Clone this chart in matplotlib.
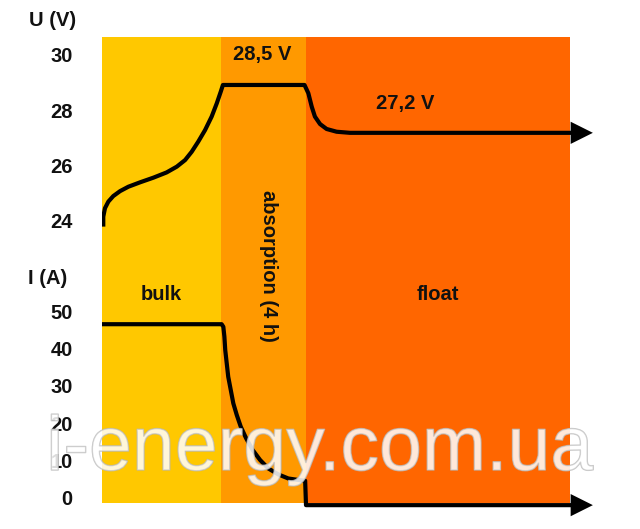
import matplotlib
matplotlib.use("Agg")
import matplotlib.pyplot as plt
import matplotlib.patheffects as pe

plt.rcParams['font.family'] = ['Liberation Sans', 'DejaVu Sans']

# ---- data ----
stages = ["bulk", "absorption (4 h)", "float"]
stage_edges = [0.0, 5.6, 9.6, 22.0]          # hours
stage_colors = ["#FFC800", "#FF9900", "#FF6600"]

volt_t = [0.06, 0.06, 0.14, 0.30, 0.53, 0.85, 1.24, 1.79, 2.42, 3.04, 3.52, 3.91, 4.22, 4.53,
          4.85, 5.16, 5.40, 5.59, 5.69,
          9.53, 9.71, 9.87, 10.02, 10.26, 10.57, 11.04, 11.67, 22.4]
volt_v = [23.76, 24.12, 24.43, 24.67, 24.87, 25.05, 25.21, 25.37, 25.54, 25.73, 25.94, 26.18, 26.48, 26.85,
          27.27, 27.76, 28.24, 28.67, 28.91,
          28.91, 28.61, 28.12, 27.76, 27.49, 27.31, 27.21, 27.17, 27.17]

curr_t = [0.0, 5.63, 5.71, 5.76, 5.80, 5.87, 5.94, 6.06, 6.18, 6.34, 6.53, 6.78, 7.09, 7.44,
          7.83, 8.30, 8.77, 9.25, 9.56, 9.60, 22.4]
curr_i = [46.7, 46.7, 46.0, 43.3, 39.7, 36.1, 32.5, 28.9, 25.3, 22.2, 19.0, 15.9, 12.7, 10.0,
          7.7, 6.1, 5.0, 4.6, 4.4, -2.2, -2.2]

arrow_tip = 23.1
volt_ticks = [24, 26, 28, 30]
curr_ticks = [0, 10, 20, 30, 40, 50]
volt_labels = ["28,5 V", "27,2 V"]

# ---- layout ----
W, H = 640, 529
fig = plt.figure(figsize=(W / 100, H / 100), dpi=100)

def fy(p):
    return 1 - p / H

left, right = 102 / W, 612 / W
ax_u = fig.add_axes([left, fy(265), right - left, fy(37) - fy(265)])
ax_i = fig.add_axes([left, fy(503), right - left, fy(265) - fy(503)])

ax_u.set_ylim(22.364, 30.6545)
ax_i.set_ylim(-1.62, 62.70)
for ax in (ax_u, ax_i):
    ax.set_xlim(0, 24)
    for s in ax.spines.values():
        s.set_visible(False)
    ax.set_xticks([])
    ax.tick_params(axis='y', length=0, pad=21, labelsize=14.5)
    for x0, x1, c in zip(stage_edges[:-1], stage_edges[1:], stage_colors):
        ax.axvspan(x0, x1, color=c, lw=0, zorder=0)

ax_u.set_yticks(volt_ticks)
ax_i.set_yticks(curr_ticks)
for ax in (ax_u, ax_i):
    for lab in ax.get_yticklabels():
        lab.set_fontweight('bold')
        lab.set_color('#111111')

lw = 3.0
ax_u.plot(volt_t, volt_v, color='black', lw=lw, solid_capstyle='butt', solid_joinstyle='round', zorder=3)
ax_i.plot(curr_t, curr_i, color='black', lw=lw, solid_capstyle='butt', solid_joinstyle='round',
          zorder=3, clip_on=False)

arrow_kw = dict(arrowstyle='-|>,head_length=0.8,head_width=0.4', mutation_scale=20, color='black', lw=0,
                shrinkA=0, shrinkB=0)
ax_u.annotate('', xy=(arrow_tip, volt_v[-1]), xytext=(volt_t[-1] - 0.1, volt_v[-1]),
              arrowprops=arrow_kw, annotation_clip=False, zorder=4)
ax_i.annotate('', xy=(arrow_tip, curr_i[-1]), xytext=(curr_t[-1] - 0.1, curr_i[-1]),
              arrowprops=arrow_kw, annotation_clip=False, zorder=4)

tk = dict(fontsize=14.5, fontweight='bold', color='#111111', ha='center', va='center')
ax_i.text((stage_edges[0] + stage_edges[1]) / 2, 54.6, stages[0], **tk)
ax_i.text((stage_edges[2] + stage_edges[3]) / 2, 54.6, stages[2], **tk)
ax_i.text(7.85, 62.4, stages[1], rotation=270, clip_on=False, **tk)
ax_u.text(7.53, 30.0, volt_labels[0], **tk)
ax_u.text(14.26, 28.25, volt_labels[1], **tk)

fig.text(53 / W, fy(20), "U (V)", **tk)
fig.text(48 / W, fy(278), "I (A)", **tk)

# watermark
wm = fig.text(320 / W, fy(470), "i-energy.com.ua", fontsize=55.5, ha='center', va='baseline',
              color=(1, 1, 1, 0.28), zorder=10)
wm.set_path_effects([pe.Stroke(linewidth=1.0, foreground='#b8b8b8', alpha=0.8), pe.Normal()])

fig.savefig("out.png", dpi=100)
